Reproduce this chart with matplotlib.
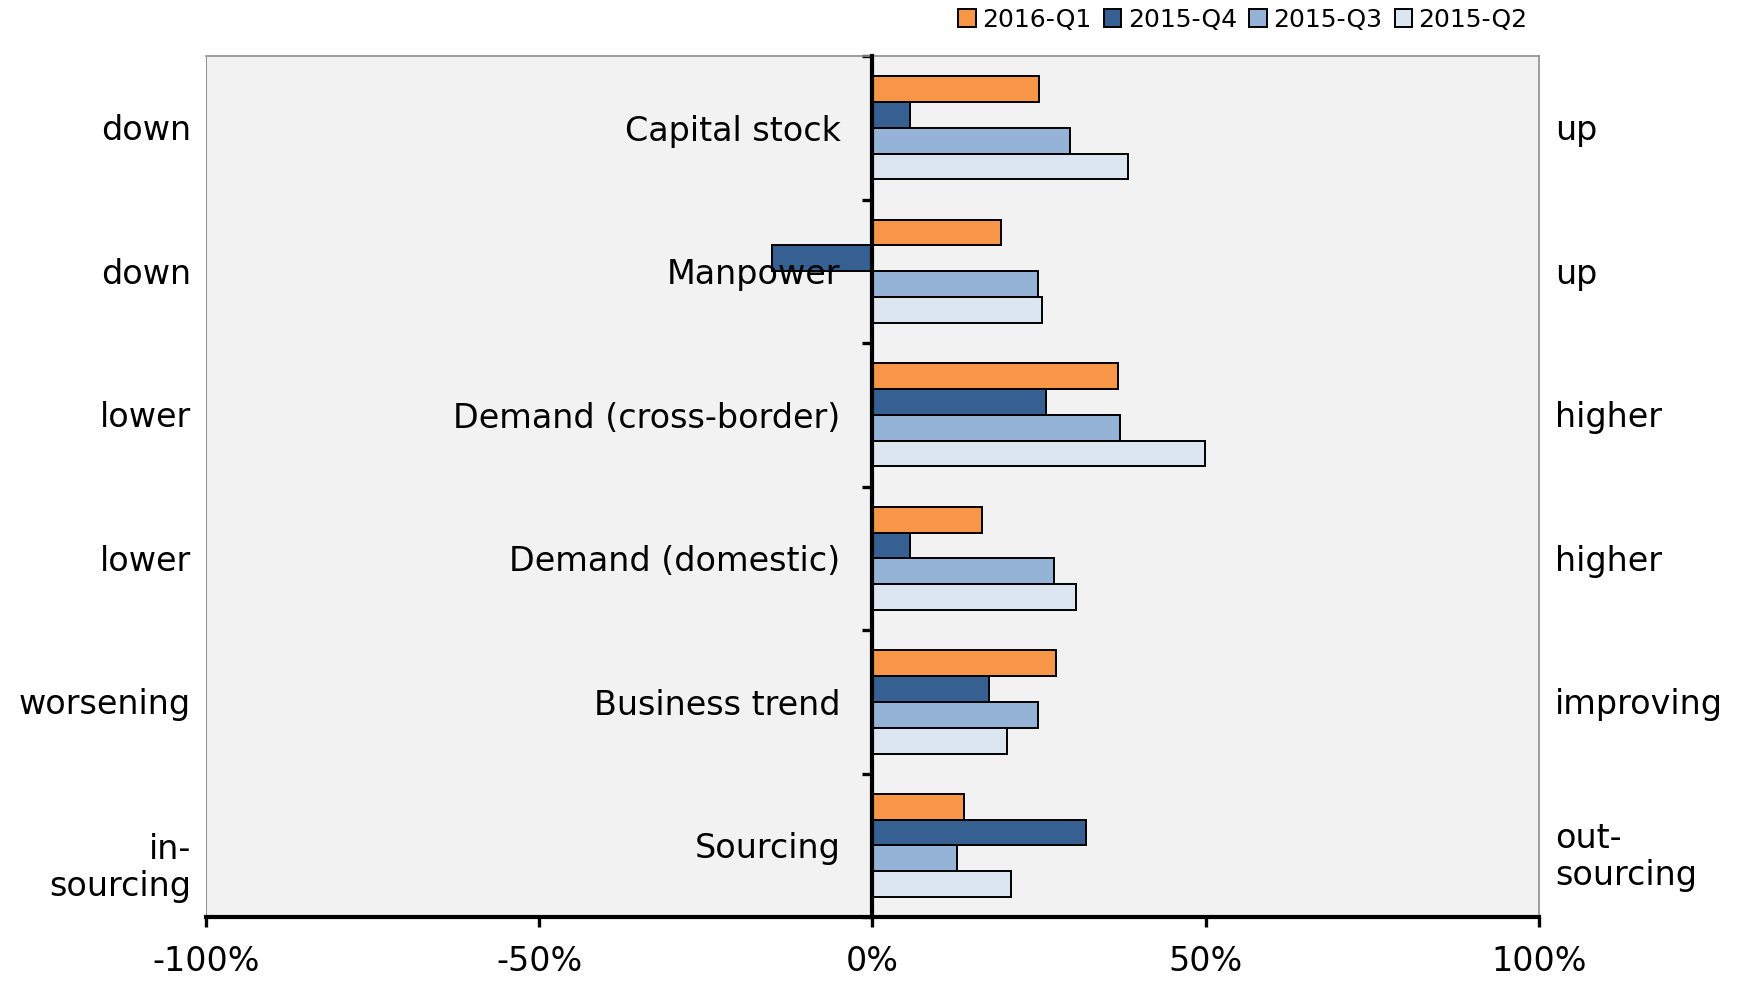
import matplotlib
matplotlib.use('Agg')
import matplotlib.pyplot as plt
import numpy as np

categories = ['Capital stock', 'Manpower', 'Demand (cross-border)',
              'Demand (domestic)', 'Business trend', 'Sourcing']
left_labels = ['down', 'down', 'lower', 'lower', 'worsening', 'in-\nsourcing']
right_labels = ['up', 'up', 'higher', 'higher', 'improving', 'out-\nsourcing']

series_names = ['2016-Q1', '2015-Q4', '2015-Q3', '2015-Q2']
q1_2016 = [25, 19.3, 36.9, 16.5, 27.5, 13.8]
q4_2015 = [5.7, -15, 26.1, 5.7, 17.5, 32.1]
q3_2015 = [29.7, 24.9, 37.2, 27.3, 24.8, 12.7]
q2_2015 = [38.4, 25.4, 49.9, 30.5, 20.2, 20.8]
series = [q1_2016, q4_2015, q3_2015, q2_2015]
colors = ['#F79646', '#366092', '#95B3D7', '#DCE6F1']

xticks = [-100, -50, 0, 50, 100]
xticklabels = ['-100%', '-50%', '0%', '50%', '100%']

plt.rcParams['font.family'] = ['DejaVu Sans']

fig = plt.figure(figsize=(17.42, 9.82), dpi=100)
ax = fig.add_axes([0.1183, 0.066, 0.765, 0.877])
ax.set_facecolor('#F2F2F2')

y = np.arange(len(categories))
h = 0.18
for k, (vals, col, name) in enumerate(zip(series, colors, series_names)):
    ax.barh(y + (k - 1.5) * h, vals, height=h, color=col, edgecolor='black',
            linewidth=1.4, label=name, zorder=3)

ax.set_xlim(-100, 100)
ax.set_ylim(5.5, -0.5)

# zero line acts as the category axis
ax.spines['left'].set_position(('data', 0))
ax.spines['left'].set_linewidth(3)
ax.spines['left'].set_zorder(4)
ax.spines['bottom'].set_linewidth(3)
for s in ['top', 'right']:
    ax.spines[s].set_color('#8f8f8f')
    ax.spines[s].set_linewidth(1.2)
ax.axvline(-100, color='#8f8f8f', lw=1.4, zorder=1)

ax.set_yticks(np.arange(-0.5, 6, 1))
ax.set_yticklabels([])
ax.tick_params(axis='y', direction='out', length=7, width=2.4)
ax.set_xticks(xticks)
ax.set_xticklabels(xticklabels, fontsize=24)
ax.tick_params(axis='x', direction='out', length=7, width=2.4, pad=13)

for i, cat in enumerate(categories):
    ax.text(-4.8, i, cat, ha='right', va='center_baseline', fontsize=24, zorder=5)

trans_l = ax.get_yaxis_transform()
for i, (lab, rab) in enumerate(zip(left_labels, right_labels)):
    dl = 0.16 if '\n' in lab else 0.02
    dr = 0.08 if '\n' in rab else 0.02
    ax.text(-0.0115, i + dl, lab, ha='right', va='center', fontsize=24,
            transform=trans_l, linespacing=1.15)
    ax.text(1.0125, i + dr, rab, ha='left', va='center', fontsize=24,
            transform=trans_l, linespacing=1.15)

fig.legend(loc='center right', bbox_to_anchor=(0.884, 0.98), ncol=4,
           frameon=False, fontsize=18, handlelength=0.7, handleheight=0.7,
           handletextpad=0.25, columnspacing=0.5, borderpad=0)

fig.savefig('out.png', dpi=100, facecolor='white')
